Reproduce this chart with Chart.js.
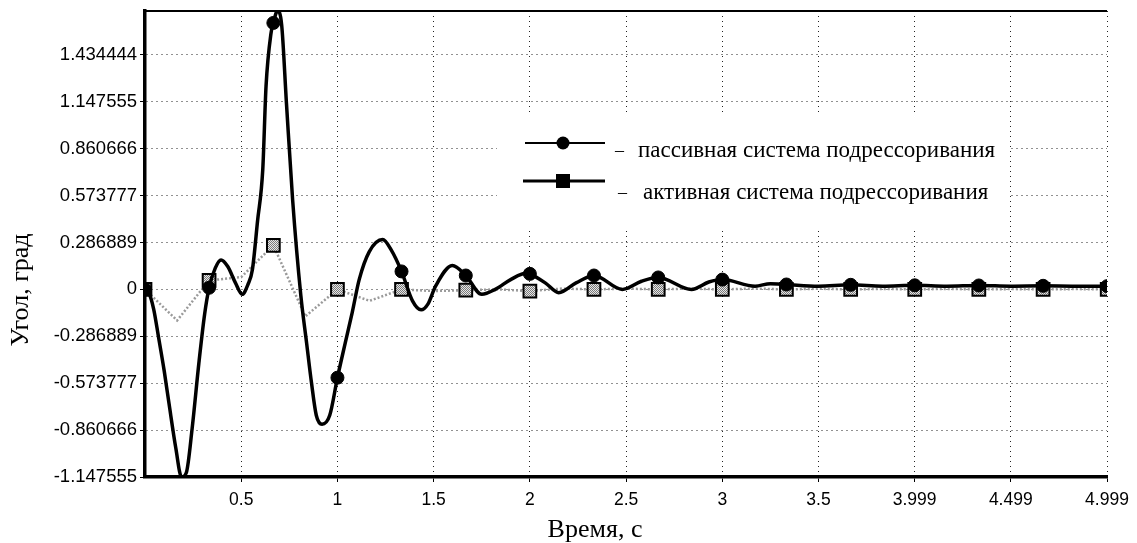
<!DOCTYPE html>
<html>
<head>
<meta charset="utf-8">
<script src="https://cdn.jsdelivr.net/npm/chart.js@4.4.1/dist/chart.umd.min.js"></script>
<style>
  html, body { margin: 0; padding: 0; background: #fff; }
  #wrap { width: 1137px; height: 543px; position: relative; }
</style>
</head>
<body>
<div id="wrap"><canvas id="c" width="1137" height="543"></canvas></div>
<script>
// ---- data ----
const seriesNames = ['пассивная система подрессоривания', 'активная система подрессоривания'];
const xTitle = 'Время, с';
const yTitle = 'Угол, град';

const passiveT = [0, 0.02, 0.045, 0.07, 0.1, 0.125, 0.16, 0.19, 0.215, 0.245, 0.28, 0.31, 0.333,
  0.365, 0.395, 0.43, 0.47, 0.505, 0.535, 0.558, 0.585, 0.612, 0.629, 0.655, 0.667, 0.688, 0.71,
  0.735, 0.767, 0.81, 0.84, 0.865, 0.89, 0.92, 0.96, 1.0, 1.04, 1.077, 1.113, 1.165, 1.235, 1.28,
  1.333, 1.39, 1.435, 1.47, 1.51, 1.597, 1.667, 1.75, 1.82, 1.9, 1.985, 2.0, 2.08, 2.15, 2.24,
  2.333, 2.48, 2.58, 2.667, 2.84, 2.93, 3.0, 3.17, 3.25, 3.333, 3.5, 3.667, 3.833, 4.0, 4.167,
  4.333, 4.5, 4.667, 4.833, 5.0];
const passiveV = [0, -0.02, -0.12, -0.29, -0.5, -0.7, -0.97, -1.147555, -1.12, -0.85, -0.45, -0.15, 0.01,
  0.13, 0.18, 0.14, 0.04, -0.03, 0.03, 0.12, 0.42, 0.734, 1.243, 1.569, 1.63, 1.703, 1.62,
  1.14, 0.55, -0.04, -0.33, -0.57, -0.77, -0.825, -0.77, -0.54, -0.33, -0.14, 0.06, 0.23, 0.305, 0.24,
  0.11, -0.07, -0.125, -0.09, 0.02, 0.146, 0.085, -0.03, 0.0, 0.06, 0.10, 0.095, 0.04, -0.02, 0.04,
  0.085, 0.0, 0.05, 0.073, 0.0, 0.045, 0.06, 0.02, 0.035, 0.03, 0.02, 0.028, 0.02, 0.025, 0.02,
  0.024, 0.02, 0.022, 0.02, 0.02];

const activeT = [0, 0.167, 0.333, 0.5, 0.667, 0.833, 1.0, 1.167, 1.333, 1.5, 1.667, 1.833, 2.0,
  2.167, 2.333, 2.5, 2.667, 2.833, 3.0, 3.167, 3.333, 3.5, 3.667, 3.833, 4.0, 4.167, 4.333, 4.5,
  4.667, 4.833, 5.0];
const activeV = [0, -0.19, 0.055, 0.075, 0.27, -0.165, 0, -0.07, 0, -0.01, -0.005, 0.0, -0.01,
  0.005, 0, 0.005, 0, 0.005, 0, 0.005, 0, 0.004, 0, 0.003, 0, 0.003, 0, 0.002,
  0, 0.002, 0];

const xTickValues = [0.5, 1, 1.5, 2, 2.5, 3, 3.5, 3.999, 4.499, 4.999];
const xTickLabels = ['0.5', '1', '1.5', '2', '2.5', '3', '3.5', '3.999', '4.499', '4.999'];
const yTickValues = [-1.147555, -0.860666, -0.573777, -0.286889, 0, 0.286889, 0.573777, 0.860666, 1.147555, 1.434444];
const yTickLabels = ['-1.147555', '-0.860666', '-0.573777', '-0.286889', '0', '0.286889', '0.573777', '0.860666', '1.147555', '1.434444'];
const xMin = 0, xMax = 4.999, yMin = -1.147555, yMax = 1.703;

// ---- styles ----
const SERIF = "'Liberation Serif', 'Times New Roman', serif";
const SANS = "'Liberation Sans', Arial, sans-serif";

function makeHatch() {
  const p = document.createElement('canvas');
  p.width = 2; p.height = 2;
  const g = p.getContext('2d');
  g.fillStyle = '#e6e6e6'; g.fillRect(0, 0, 2, 2);
  g.fillStyle = '#7a7a7a'; g.fillRect(0, 0, 1, 1); g.fillRect(1, 1, 1, 1);
  return g.createPattern(p, 'repeat');
}
const hatch = makeHatch();

const isMarker = (t) => { const k = t * 3; return Math.abs(k - Math.round(k)) < 0.01; };

const passiveData = passiveT.map((t, i) => ({ x: t, y: passiveV[i] }));
const activeData = activeT.map((t, i) => ({ x: t, y: activeV[i] }));

const decor = {
  id: 'decor',
  afterDatasetsDraw(chart) {
    const { ctx, chartArea: a } = chart;
    ctx.save();
    // top frame line
    ctx.strokeStyle = '#000'; ctx.lineWidth = 2;
    ctx.beginPath(); ctx.moveTo(a.left, a.top); ctx.lineTo(a.right, a.top); ctx.stroke();
    // legend box (white background)
    const L = a.left, T = a.top;
    ctx.fillStyle = '#fff';
    ctx.fillRect(L + 352, T + 104, 512, 112);
    // legend row 1
    ctx.strokeStyle = '#000'; ctx.lineWidth = 2;
    ctx.beginPath(); ctx.moveTo(L + 380, T + 132); ctx.lineTo(L + 460, T + 132); ctx.stroke();
    ctx.fillStyle = '#000';
    ctx.beginPath(); ctx.arc(L + 418, T + 132, 6.5, 0, Math.PI * 2); ctx.fill();
    ctx.textBaseline = 'middle'; ctx.textAlign = 'left';
    ctx.font = '18px ' + SERIF;
    ctx.fillText('–', L + 470, T + 140);
    ctx.font = '23px ' + SERIF;
    ctx.fillText(seriesNames[0], L + 493, T + 140);
    // legend row 2
    ctx.lineWidth = 3;
    ctx.beginPath(); ctx.moveTo(L + 378, T + 170); ctx.lineTo(L + 460, T + 170); ctx.stroke();
    ctx.fillRect(L + 411, T + 163, 14, 14);
    ctx.font = '18px ' + SERIF;
    ctx.fillText('–', L + 473, T + 182);
    ctx.font = '23px ' + SERIF;
    ctx.fillText(seriesNames[1], L + 498, T + 182);
    ctx.restore();
  },
  afterDraw(chart) {
    const { ctx } = chart;
    ctx.save();
    ctx.fillStyle = '#000';
    ctx.font = '26px ' + SERIF;
    ctx.textAlign = 'center'; ctx.textBaseline = 'middle';
    ctx.fillText(xTitle, 595, 530);
    ctx.translate(21, 290); ctx.rotate(-Math.PI / 2);
    ctx.fillText(yTitle, 0, 0);
    ctx.restore();
  }
};

new Chart(document.getElementById('c'), {
  type: 'line',
  data: {
    datasets: [
      {
        label: seriesNames[0],
        data: passiveData,
        borderColor: '#000',
        borderWidth: 3.5,
        cubicInterpolationMode: 'monotone',
        pointStyle: 'circle',
        pointRadius: (c) => isMarker(c.raw.x) ? 6.5 : 0,
        pointBackgroundColor: '#000',
        pointBorderColor: '#000',
        pointBorderWidth: 1,
        order: 0
      },
      {
        label: seriesNames[1],
        data: activeData,
        borderColor: '#9a9a9a',
        borderWidth: 2.5,
        borderDash: [2, 2],
        tension: 0,
        pointStyle: 'rect',
        pointRadius: (c) => isMarker(c.raw.x) ? 9 : 0,
        pointBackgroundColor: hatch,
        pointBorderColor: '#000',
        pointBorderWidth: 2,
        order: 1
      }
    ]
  },
  options: {
    responsive: false,
    animation: false,
    events: [],
    layout: { padding: { left: 0, right: 30, top: 8, bottom: 0 } },
    plugins: { legend: { display: false }, tooltip: { enabled: false } },
    scales: {
      x: {
        type: 'linear',
        min: xMin, max: xMax,
        afterBuildTicks: (s) => { s.ticks = xTickValues.map(v => ({ value: v })); },
        afterFit: (s) => { s.height = 66; s.paddingLeft = 0; s.paddingRight = 0; },
        ticks: {
          autoSkip: false, maxRotation: 0, color: '#000', padding: 8,
          font: { family: SANS, size: 17.5 },
          callback: (v) => { const i = xTickValues.indexOf(v); return i >= 0 ? xTickLabels[i] : ''; }
        },
        grid: { color: '#222', lineWidth: 1, tickLength: 5, tickColor: '#000', tickBorderDash: [] },
        border: { display: true, color: '#000', width: 3.5, dash: [1, 4] }
      },
      y: {
        type: 'linear',
        min: yMin, max: yMax,
        afterBuildTicks: (s) => { s.ticks = yTickValues.map(v => ({ value: v })); },
        afterFit: (s) => { s.width = 145; s.paddingTop = 0; s.paddingBottom = 0; },
        ticks: {
          autoSkip: false, color: '#000', padding: 3,
          font: { family: SANS, size: 18.5 },
          callback: (v) => { const i = yTickValues.indexOf(v); return i >= 0 ? yTickLabels[i] : ''; }
        },
        grid: { color: '#222', lineWidth: 1, tickLength: 5, tickColor: '#000', tickBorderDash: [] },
        border: { display: true, color: '#000', width: 3.5, dash: [1, 4] }
      }
    }
  },
  plugins: [decor]
});
</script>
</body>
</html>
